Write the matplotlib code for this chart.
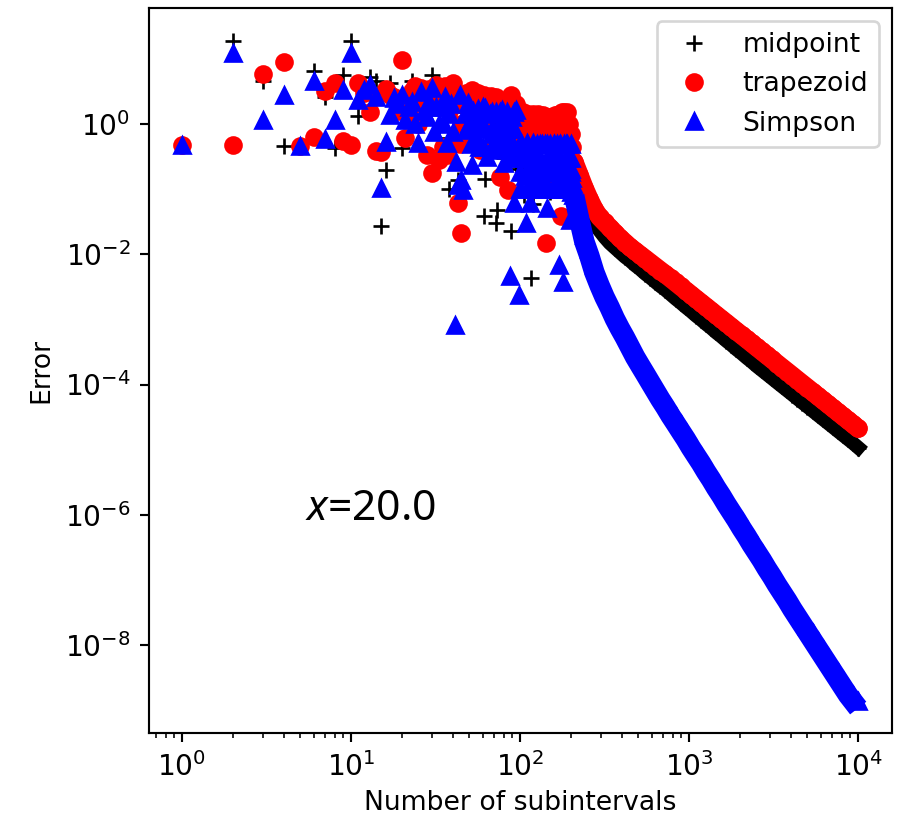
#!/usr/bin/env python3
import matplotlib
matplotlib.use('Agg')
import numpy as np
from matplotlib import pyplot as plt
from matplotlib.transforms import ScaledTranslation

# scattered part: subinterval count, error
mid_n = [1, 2, 3, 4, 6, 7, 8, 9, 10, 11, 13, 14, 15, 16, 17, 20, 22, 23, 25, 27, 30, 33, 38, 40, 43, 48,
         55, 61, 62, 66, 72, 73, 80, 88, 95, 105, 116, 120, 130, 150, 170, 190, 200]
mid_err = [.48, 18.8, 4.6, .46, 6.5, 2.6, .43, 5.6, 18.8, 1.33, 5.3, 4.5, .027, .196, 4.2, .43, 1.0, 4.5,
           3.0, 2.5, 5.7, .6, .10, 1.5, .138, .9, 1.4, .0386, .145, .5, .03, .048, .3, .0228, .2, .08,
           .0043, .06, .1, .09, .1, .15, .2]

trap_n = [1, 2, 3, 4, 5, 6, 7, 8, 9, 10, 11, 12, 13, 14, 15, 16, 17, 18, 19, 20, 21, 22, 23, 24, 25, 26,
          27, 28, 29, 30, 31, 32, 33, 34, 35, 36, 37, 38, 40, 42, 43, 44, 45, 46, 48, 50, 52, 54, 56,
          58, 61, 64, 67, 70, 72, 76, 80, 85, 88, 92, 96, 98, 100, 100, 104, 108, 108, 110, 112, 116,
          118, 120, 124, 125, 128, 128, 132, 136, 138, 140, 140, 143, 145, 148, 150, 155, 158, 160,
          160, 165, 168, 170, 175, 178, 178, 180, 183, 188, 189, 195, 200, 204]
trap_err = [.48, .48, 5.9, 9.06, .46, .64, 3.2, 4.3, .55, .48, 4.3, 3.0, 1.54, .385, .37, 3.5, 2.8, 2.6,
            1.6, 9.6, .61, 1.5, 3.2, 3.8, 1.0, 3.6, 2.0, .33, 3.4, .175, 3.0, 4.0, .28, 2.5, .45, 3.8,
            .33, 1.6, 4.2, 3.0, .0605, .5, .0212, 2.5, 3.0, .8, 3.3, 1.5, 3.0, .4, 2.8, 1.2, 2.7, .6,
            2.6, .155, 2.0, .097, 2.8, 1.9, 1.5, .3, 1.3, .7, 1.5, 1.3, .8, .5, 1.4, 1.25, .7, 1.4,
            1.3, .2, 1.4, .8, 1.3, 1.35, .7, 1.3, .15, .0149, 1.3, .8, 1.3, 1.3, .7, 1.35, .2, 1.3,
            .8, 1.4, .038, 1.5, .7, .1, 1.5, .8, 1.55, 1.0, .7, .45]
# the crowded block, points hard to tell apart
trap_block_n = [45, 45, 55, 55, 65, 65, 75, 75, 85, 85, 95, 95, 102, 110, 120, 130, 140, 150, 160, 170, 180, 190]
trap_block_err = [2.0, 1.0, 2.0, 1.0, 2.0, 1.0, 2.0, 1.0, 2.0, 1.0, 2.0, 1.0, .9, .9, .9, .9, .9, .9, .9, .9, .9, .9]

simp_n = [1, 2, 3, 4, 5, 6, 7, 8, 9, 10, 11, 12, 13, 14, 15, 16, 17, 18, 19, 20, 21, 22, 23, 24, 25, 26,
          27, 28, 29, 30, 31, 32, 33, 34, 35, 36, 37, 38, 39, 40, 41, 42, 43, 44, 45, 46, 47, 48, 49,
          50, 51, 52, 53, 54, 55, 56, 57, 58, 60, 62, 64, 66, 68, 70, 72, 74, 76, 78, 79, 80, 82, 84,
          87, 88, 90, 92, 95, 98, 100, 101, 104, 107, 108, 110, 113, 115, 117, 120, 123, 126, 130,
          134, 138, 141, 144, 147, 150, 154, 158, 162, 165, 168, 171, 173, 176, 179, 181, 184, 187,
          190, 193, 195, 197, 199, 201, 203, 205, 207]
simp_err = [.48, 12.4, 1.15, 2.8, .46, 4.6, .59, 1.16, 3.3, 12.4, 2.3, 3.3, 4.0, 2.6, .104, .53, 1.37,
            2.5, 2.0, 2.8, 1.15, 1.8, 2.2, 1.0, .51, 3.1, 1.6, 1.3, 2.2, 3.6, .76, 1.8, 1.0, 1.8,
            1.03, 2.6, .51, 1.4, 2.0, .75, 8.2e-4, .263, .116, 2.8, .138, .097, 1.4, .8, 2.08, 1.0,
            .5, .234, 1.6, .9, .638, 1.7, .45, 1.2, 1.8, 1.74, .315, 1.4, .7, .5, 1.5, .9, .4, 1.64,
            .60, .255, 1.2, .6, 4.6e-3, .3, 1.3, .0605, 1.64, 2.36e-3, .5, .51, .3, .16, .0298, .51,
            .2, .0605, .35, .51, .12, .5, .25, .5, .14, .5, .0507, .3, .5, .18, .5, .12, .5, .25,
            6.8e-3, .5, .15, 3.8e-3, .5, .25, .12, .5, .1, .3, .0335, .2, .09, .15, .12, .08]
simp_block_n = [60, 60, 60, 68, 68, 68, 76, 76, 76, 84, 84, 84, 92, 92, 92,
                100, 100, 100, 100, 110, 110, 110, 110, 120, 120, 120, 120,
                132, 132, 132, 132, 145, 145, 145, 145, 158, 158, 158, 158,
                172, 172, 172, 172, 186, 186, 186, 186, 200, 200, 200, 200]
simp_block_err = [1.5, .85, .45, 1.5, .85, .45, 1.5, .85, .45, 1.5, .85, .45, 1.5, .85, .45,
                  .5, .3, .18, .1, .5, .3, .18, .1, .5, .3, .18, .1,
                  .5, .3, .18, .1, .5, .3, .18, .1, .5, .3, .18, .1,
                  .5, .3, .18, .1, .5, .3, .18, .1, .5, .3, .18, .1]

# smooth tail past n~200, read as log10(error) since it spans so many decades
tail_n = [209, 224, 240, 257, 275, 295, 316, 339, 363, 389, 417, 447, 479, 513, 550, 589, 631, 676, 724,
          776, 832, 891, 955, 1023, 1096, 1175, 1259, 1349, 1445, 1549, 1660, 1778, 1905, 2042, 2188,
          2344, 2512, 2692, 2884, 3090, 3311, 3548, 3802, 4074, 4365, 4677, 5012, 5370, 5754, 6166,
          6607, 7079, 7586, 8128, 8710, 9333, 10000]
mid_tail = [-.75, -.98, -1.2, -1.40, -1.53, -1.64, -1.74, -1.83, -1.90, -1.97, -2.04, -2.10, -2.17, -2.23,
            -2.30, -2.36, -2.425, -2.49, -2.548, -2.615, -2.683, -2.745, -2.812, -2.874, -2.942, -3.004,
            -3.071, -3.133, -3.201, -3.263, -3.33, -3.392, -3.46, -3.522, -3.589, -3.651, -3.719, -3.781,
            -3.843, -3.905, -3.968, -4.03, -4.092, -4.154, -4.217, -4.279, -4.341, -4.403, -4.466, -4.528,
            -4.59, -4.652, -4.715, -4.777, -4.839, -4.901, -4.968]
trap_tail = [-.58, -.78, -.98, -1.155, -1.31, -1.43, -1.51, -1.59, -1.67, -1.75, -1.82, -1.89, -1.95, -2.01,
             -2.07, -2.13, -2.19, -2.25, -2.308, -2.370, -2.433, -2.495, -2.557, -2.619, -2.682, -2.744,
             -2.806, -2.868, -2.931, -2.993, -3.055, -3.117, -3.180, -3.242, -3.304, -3.366, -3.429, -3.491,
             -3.553, -3.615, -3.678, -3.740, -3.802, -3.864, -3.927, -3.989, -4.051, -4.113, -4.176, -4.238,
             -4.300, -4.362, -4.425, -4.487, -4.549, -4.611, -4.675]
simp_tail = [-1.00, -1.36, -1.70, -1.92, -2.17, -2.37, -2.55, -2.71, -2.88, -3.03, -3.17, -3.32, -3.47, -3.60,
             -3.73, -3.86, -3.99, -4.12, -4.24, -4.37, -4.49, -4.61, -4.73, -4.86, -4.98, -5.10,
             -5.23, -5.35, -5.48, -5.60, -5.73, -5.85, -5.97, -6.10, -6.22, -6.35, -6.47, -6.59,
             -6.72, -6.84, -6.97, -7.09, -7.21, -7.34, -7.46, -7.58, -7.70, -7.82, -7.94, -8.06,
             -8.18, -8.30, -8.42, -8.54, -8.66, -8.76, -8.86]

y_ticks = [1e-8, 1e-6, 1e-4, 1e-2, 1e0]

plt.rcParams['mathtext.it'] = 'Noto Sans:italic'
plt.rcParams['mathtext.rm'] = 'Noto Sans'

fig = plt.figure(figsize=(905 / 192, 814 / 192), dpi=192)
ax = fig.add_axes([149 / 905, 1 - 733 / 814, (892 - 149) / 905, (733 - 8) / 814])

mid_tail_err = 10.0 ** np.array(mid_tail)
trap_tail_err = 10.0 ** np.array(trap_tail)
simp_tail_err = 10.0 ** np.array(simp_tail)

# the original has a marker for every n, so its tails are solid bands; a wide
# line under the markers closes the gaps between the points read here
ax.loglog(tail_n, mid_tail_err, color='k', lw=5.2)
ax.loglog(mid_n + tail_n, mid_err + list(mid_tail_err), 'k+', label='midpoint')

ax.loglog(tail_n, trap_tail_err, color='r', lw=7, solid_capstyle='round')
ax.loglog(trap_n + trap_block_n + tail_n, trap_err + trap_block_err + list(trap_tail_err), 'ro', label='trapezoid')

# a triangle sweeps a band that sits below its centre, hence the shift
shift = ScaledTranslation(0, -7 / 192, fig.dpi_scale_trans)
ax.loglog(tail_n, simp_tail_err, color='b', lw=7.7, solid_capstyle='butt', transform=ax.transData + shift)
ax.loglog(simp_n + simp_block_n + tail_n, simp_err + simp_block_err + list(simp_tail_err), 'b^', label='Simpson')

ax.set_xlim(10 ** -.195, 10 ** 4.2)
ax.set_ylim(10 ** -9.35, 10 ** 1.78)
ax.set_yticks(y_ticks)
ax.tick_params(labelsize=10.5)
ax.set_xlabel('Number of subintervals', labelpad=3)
ax.set_ylabel('Error')
ax.text(5.35, 8.3e-7, '$x$=20.0', fontsize=16, family='Noto Sans', math_fontfamily='custom')
ax.legend(loc='upper right')

fig.savefig('out.png', dpi=192)
